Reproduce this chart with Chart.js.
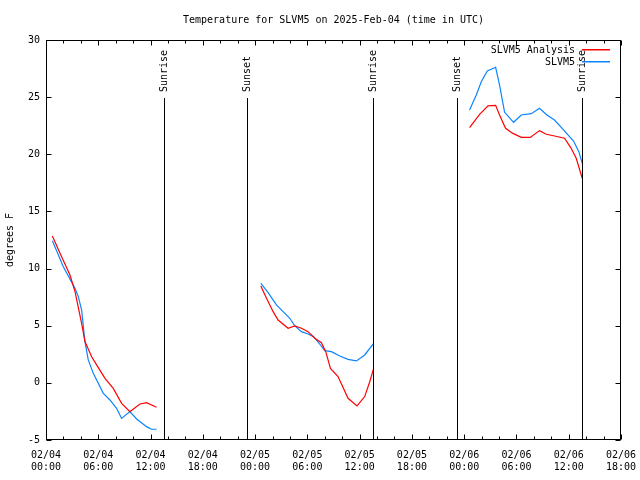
<!DOCTYPE html>
<html>
<head>
<meta charset="utf-8">
<script src="https://cdn.jsdelivr.net/npm/chart.js@4.4.1/dist/chart.umd.min.js"></script>
<style>
  html, body { margin: 0; padding: 0; background: #fff; }
  #wrap { width: 640px; height: 480px; }
</style>
</head>
<body>
<div id="wrap"><canvas id="tempChart"></canvas></div>
<script>
// hours after 02/04 00:00 UTC; null breaks the line between the three runs
const analysisHours = [0.73, 1.61, 2.75, 3.33, 4.09, 4.47, 5.24, 5.81, 6.77, 7.72, 8.68, 9.63, 10.78, 11.54, 12.69, null,
    24.66, 25.31, 26.07, 26.64, 27.79, 28.56, 29.32, 30.08, 30.85, 31.61, 32.11, 32.65, 33.52, 34.67, 35.7, 36.58, 37.16, 37.61, null,
    48.62, 49.77, 50.73, 51.61, 52.06, 52.75, 53.59, 54.55, 55.58, 56.65, 57.42, 58.37, 59.52, 60.28, 60.86, 61.55];
const analysisTemps = [12.85, 11.34, 9.44, 7.99, 5.21, 3.61, 2.29, 1.57, 0.39, -0.48, -1.79, -2.52, -1.85, -1.73, -2.13, null,
    8.48, 7.4, 6.23, 5.5, 4.78, 4.98, 4.78, 4.48, 3.9, 3.52, 2.73, 1.27, 0.55, -1.35, -2.02, -1.2, 0.1, 1.27, null,
    22.33, 23.5, 24.23, 24.28, 23.44, 22.27, 21.83, 21.48, 21.48, 22.07, 21.75, 21.6, 21.4, 20.52, 19.65, 17.9];

const obsHours = [0.73, 1.99, 3.33, 3.71, 4.09, 4.47, 4.85, 5.43, 6.0, 6.58, 7.34, 8.1, 8.68, 9.63, 10.4, 11.54, 12.12, 12.69, null,
    24.66, 25.5, 26.45, 27.22, 27.98, 28.56, 29.32, 30.08, 30.73, 31.42, 32.0, 32.76, 33.72, 34.67, 35.63, 36.58, 37.61, null,
    48.62, 49.39, 49.96, 50.65, 51.61, 52.06, 52.64, 53.67, 54.55, 55.7, 56.65, 57.49, 58.37, 59.4, 60.55, 61.16, 61.55];
const obsTemps = [12.44, 10.16, 8.27, 7.55, 6.37, 3.61, 2.01, 0.83, -0.04, -0.92, -1.5, -2.23, -3.11, -2.52, -3.16, -3.83, -4.06, -4.06, null,
    8.71, 7.9, 6.82, 6.23, 5.65, 4.98, 4.48, 4.28, 4.04, 3.4, 2.82, 2.73, 2.35, 2.06, 1.92, 2.44, 3.46, null,
    23.88, 25.19, 26.35, 27.29, 27.61, 26.06, 23.67, 22.8, 23.44, 23.55, 24.02, 23.44, 23.0, 22.13, 21.16, 20.23, 19.21];

const xTickHours = [0, 6, 12, 18, 24, 30, 36, 42, 48, 54, 60, 66];
const xTickLabels = [
    ['02/04', '00:00'], ['02/04', '06:00'], ['02/04', '12:00'], ['02/04', '18:00'],
    ['02/05', '00:00'], ['02/05', '06:00'], ['02/05', '12:00'], ['02/05', '18:00'],
    ['02/06', '00:00'], ['02/06', '06:00'], ['02/06', '12:00'], ['02/06', '18:00']
];
const yTickValues = [-5, 0, 5, 10, 15, 20, 25, 30];

const sunLabels = ['Sunrise', 'Sunset', 'Sunrise', 'Sunset', 'Sunrise'];
const sunHours = [13.55, 23.1, 37.55, 47.15, 61.55];

const FONT = '"DejaVu Sans Mono", "Liberation Mono", monospace';
const RED = '#ff0000';
const BLUE = '#0a84ff';

function toPoints(hours, temps) {
    return hours.map((h, i) => h === null ? {x: NaN, y: null} : {x: h, y: temps[i]});
}

const framePlugin = {
    id: 'frame',
    afterDraw(chart) {
        const {ctx, chartArea: a, scales: {x, y}} = chart;
        const L = Math.round(a.left) + 0.5, R = Math.round(a.right) - 0.5;
        const T = Math.round(a.top) + 0.5, B = Math.round(a.bottom) - 0.5;
        ctx.save();
        ctx.lineWidth = 1;
        const seg = (x1, y1, x2, y2, col) => {
            ctx.strokeStyle = col || '#000';
            ctx.beginPath(); ctx.moveTo(x1, y1); ctx.lineTo(x2, y2); ctx.stroke();
        };

        ctx.strokeStyle = '#000';
        ctx.strokeRect(L, T, R - L, B - T);

        // inward ticks, mirrored on top and right
        for (let h = 0; h <= 66; h += 2) {
            const px = Math.round(x.getPixelForValue(h)) + 0.5;
            const len = xTickHours.includes(h) ? 5 : 3;
            seg(px, B, px, B - len);
            seg(px, T, px, T + len);
        }
        yTickValues.forEach(v => {
            const py = Math.round(y.getPixelForValue(v)) + 0.5;
            seg(L, py, L + 5, py);
            seg(R, py, R - 5, py);
        });

        // sunrise / sunset markers
        ctx.font = '10px ' + FONT;
        ctx.fillStyle = '#000';
        sunHours.forEach((h, i) => {
            const px = Math.round(x.getPixelForValue(h)) + 0.5;
            seg(px, 98, px, B);
            ctx.save();
            ctx.translate(px, 92);
            ctx.rotate(-Math.PI / 2);
            ctx.textAlign = 'left';
            ctx.textBaseline = 'middle';
            ctx.fillText(sunLabels[i], 0, 0);
            ctx.restore();
        });

        // key in the top right corner
        ctx.textAlign = 'right';
        ctx.textBaseline = 'middle';
        chart.data.datasets.forEach((ds, i) => {
            const ly = 50 + i * 12;
            ctx.fillStyle = '#000';
            ctx.fillText(ds.label, 575, ly);
            ctx.fillStyle = i === 0 ? RED : BLUE;
            ctx.fillRect(582, ly - 1, 28, 1.5);
        });
        ctx.restore();
    }
};

const ctx = document.getElementById('tempChart').getContext('2d');
new Chart(ctx, {
    type: 'line',
    data: {
        datasets: [{
            label: 'SLVM5 Analysis',
            data: toPoints(analysisHours, analysisTemps),
            borderColor: RED, borderWidth: 1.2, pointRadius: 0, tension: 0, spanGaps: false
        }, {
            label: 'SLVM5',
            data: toPoints(obsHours, obsTemps),
            borderColor: BLUE, borderWidth: 1.2, pointRadius: 0, tension: 0, spanGaps: false
        }]
    },
    options: {
        responsive: true, maintainAspectRatio: false, animation: false,
        layout: {padding: {top: 0, right: 19, bottom: 0, left: 0}},
        scales: {
            x: {
                type: 'linear', min: 0, max: 66,
                afterBuildTicks: s => { s.ticks = xTickHours.map(v => ({value: v})); },
                afterFit: s => { s.height = 40; s.paddingLeft = 0; s.paddingRight = 0; },
                grid: {display: false, drawTicks: false},
                border: {display: false},
                ticks: {
                    autoSkip: false, maxRotation: 0, padding: 9, color: '#000',
                    font: {family: FONT, size: 10, lineHeight: 1.25},
                    callback: v => xTickLabels[xTickHours.indexOf(v)]
                }
            },
            y: {
                min: -5, max: 30,
                afterBuildTicks: s => { s.ticks = yTickValues.map(v => ({value: v})); },
                afterFit: s => { s.width = 46; s.paddingTop = 0; s.paddingBottom = 0; },
                grid: {display: false, drawTicks: false},
                border: {display: false},
                ticks: {padding: 6, color: '#000', font: {family: FONT, size: 10}},
                title: {display: true, text: 'degrees F', color: '#000', padding: {top: 4, bottom: 0}, font: {family: FONT, size: 10}}
            }
        },
        plugins: {
            legend: {display: false},
            tooltip: {enabled: false},
            title: {
                display: true, fullSize: false,
                text: 'Temperature for SLVM5 on 2025-Feb-04 (time in UTC)',
                color: '#000', font: {family: FONT, size: 10, weight: 'normal'},
                padding: {top: 14, bottom: 14}
            }
        }
    },
    plugins: [framePlugin]
});
</script>
</body>
</html>
